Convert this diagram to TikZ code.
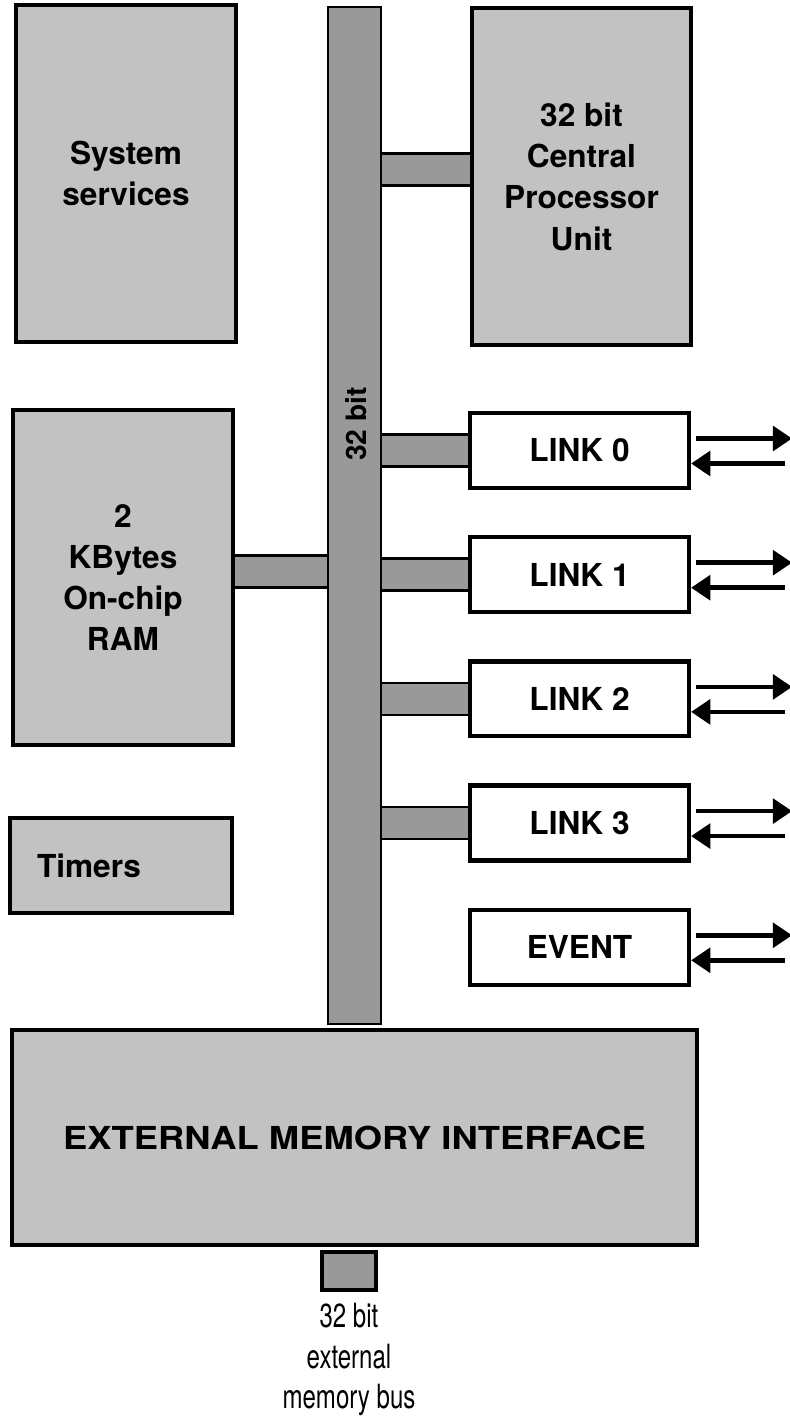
\documentclass[tikz,border=0pt]{standalone}
\usepackage{fontspec}
\setmainfont{TeX Gyre Heros}
\newfontfamily\wideheros[FakeStretch=1.15]{TeX Gyre Heros}
\newfontfamily\narrowheros[FakeStretch=0.72]{TeX Gyre Heros}
\usetikzlibrary{arrows.meta,positioning,calc}
\newcommand{\unitfont}{\fontsize{18}{23.5}\selectfont\bfseries}
\newcommand{\stub}[2]{%
  \fill[stubfill] ($(#1)+(0,-16)$) rectangle ($(#2)+(0,16)$);
  \draw[stubedge] ($(#1)+(0,-16)$) -- ($(#2)+(0,-16)$)
    ($(#1)+(0,16)$) -- ($(#2)+(0,16)$);}

\begin{document}
\begin{tikzpicture}[x=0.02cm, y=-0.02cm, node distance=0.9cm,
  unit/.style={draw, line width=2.4pt, fill=black!24, align=center,
    inner sep=0pt, font=\unitfont},
  linkbox/.style={draw, line width=2.4pt, fill=white, align=center,
    inner sep=0pt, minimum width=4.38cm, minimum height=1.5cm,
    font=\unitfont},
  busbar/.style={draw, line width=1.4pt, fill=black!40, inner sep=0pt},
  stubfill/.style={fill=black!40},
  stubedge/.style={line width=1.4pt},
  sig/.style={line width=2.6pt, -{Triangle[length=11pt,width=14pt]}}]
\useasboundingbox (0,0) rectangle (790,1422);
\node[unit, minimum width=4.4cm, minimum height=6.74cm] (sys)
  at (126,173.5) {System\\services};
\node[unit, minimum width=4.38cm, minimum height=6.74cm] (cpu)
  at (581.5,176.5) {32 bit\\Central\\Processor\\Unit};
\node[unit, minimum width=4.4cm, minimum height=6.7cm] (ram)
  at (123,577.5) {2\\KBytes\\On-chip\\RAM};
\node[unit, minimum width=4.44cm, minimum height=1.9cm, text width=3.36cm,
  inner xsep=0.54cm, align=left] (timers) at (121,865.5) {Timers};
\node[busbar, minimum width=1.06cm, minimum height=20.34cm] (bus)
  at (354.5,515.5) {};
\node[rotate=90, inner sep=0pt, font=\fontsize{16}{16}\selectfont\bfseries]
  (buswidth) at (356,424) {32 bit};
\node[linkbox] (link0) at (579.5,450.5) {LINK 0};
\node[linkbox, below=of link0] (link1) {LINK 1};
\node[linkbox, below=of link1] (link2) {LINK 2};
\node[linkbox, below=of link2] (link3) {LINK 3};
\node[linkbox, below=of link3] (event) {EVENT};
\node[unit, minimum width=13.7cm, minimum height=4.3cm,
  font=\wideheros\unitfont] (emi) at (354.5,1137.5)
  {EXTERNAL MEMORY INTERFACE};
\node[unit, minimum width=1.08cm, minimum height=0.76cm, fill=black!40]
  (pin) at (349,1271) {};
\node[below=0.22cm of pin, inner sep=0pt, align=center,
  font=\narrowheros\fontsize{19}{23}\selectfont] (extbus)
  {32 bit\\external\\memory bus};
\coordinate (cpuport) at ($(cpu.west)+(0,-7)$);
\coordinate (ramport) at ($(ram.east)+(0,-6)$);
\stub{bus.east |- cpuport}{cpuport}
\stub{ramport}{bus.west |- ramport}
\foreach \n in {link0,link1,link2,link3}{
  \stub{bus.east |- \n.west}{\n.west}
}
\foreach \n in {link0,link1,link2,link3,event}{
  \coordinate (\n-tx) at ($(\n.east)+(101,-12)$);
  \coordinate (\n-rx) at ($(\n.east)+(94,13)$);
  \draw[sig] ($(\n.east)+(5,-12)$) -- (\n-tx);
  \draw[sig] (\n-rx) -- (\n.east |- \n-rx);
}
\end{tikzpicture}
\end{document}
